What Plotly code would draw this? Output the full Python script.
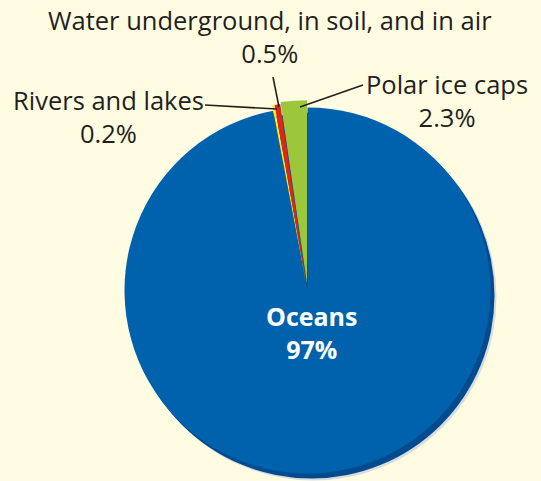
import plotly.graph_objects as go

# Distribution of the Earth's water (clockwise from 12 o'clock)
labels = ["Oceans", "Rivers and lakes", "Water underground, in soil, and in air", "Polar ice caps"]
values = [97, 0.2, 0.5, 2.3]
colors = ["#0062AD", "#FFF200", "#E2231A", "#9DC73B"]
pulls = [0, 0.03, 0.03, 0.04]

W, H = 541, 481
BG = "#FFFCE1"
INK = "#231F20"
FONT = "Open Sans"

# pie geometry in pixels
cx, cy, r = 307.5, 290.5, 183
half = r * (1 + max(pulls))


def px(x):
    return x / W


def py(y):
    return 1 - y / H


fig = go.Figure()
fig.add_trace(go.Pie(
    labels=labels,
    values=values,
    marker=dict(colors=colors, line=dict(width=0)),
    pull=pulls,
    sort=False,
    direction="clockwise",
    rotation=0,
    textinfo="none",
    hoverinfo="label+percent",
    showlegend=False,
    domain=dict(x=[px(cx - half), px(cx + half)], y=[py(cy + half), py(cy - half)]),
))

shapes = []
# soft rim and dark edge behind the disc
for dx, dy, col in [(6, 7, "#D9DCE0"), (4, 5, "#004B8D")]:
    shapes.append(dict(type="circle", xref="paper", yref="paper", layer="below",
                       x0=px(cx - r + dx), x1=px(cx + r + dx),
                       y0=py(cy + r + dy), y1=py(cy - r + dy),
                       fillcolor=col, line=dict(width=0)))

# leader lines
leaders = [
    ((363, 85), (300, 107)),
    ((273, 77), (279, 107)),
    ((205, 105), (277, 109)),
]
for (x0, y0), (x1, y1) in leaders:
    shapes.append(dict(type="line", xref="paper", yref="paper", layer="above",
                       x0=px(x0), y0=py(y0), x1=px(x1), y1=py(y1),
                       line=dict(color=INK, width=1.6)))


def lab(i):
    return f"{labels[i]}<br>{values[i]:g}%"


annotations = [
    dict(x=px(447), y=py(101), text=lab(3)),
    dict(x=px(270), y=py(36), text=lab(2)),
    dict(x=px(108), y=py(116), text=lab(1)),
    dict(x=px(311), y=py(332), text=f"<b>{labels[0]}<br>{values[0]:g}%</b>",
         font=dict(family=FONT, size=25, color="white")),
]
for a in annotations:
    a.setdefault("font", dict(family=FONT, size=25.5, color=INK))
    a.update(xref="paper", yref="paper", showarrow=False, xanchor="center", yanchor="middle",
             align="center")

fig.update_layout(
    width=W, height=H,
    margin=dict(l=0, r=0, t=0, b=0),
    paper_bgcolor=BG, plot_bgcolor=BG,
    shapes=shapes,
    annotations=annotations,
)

fig.write_html("out.html")
